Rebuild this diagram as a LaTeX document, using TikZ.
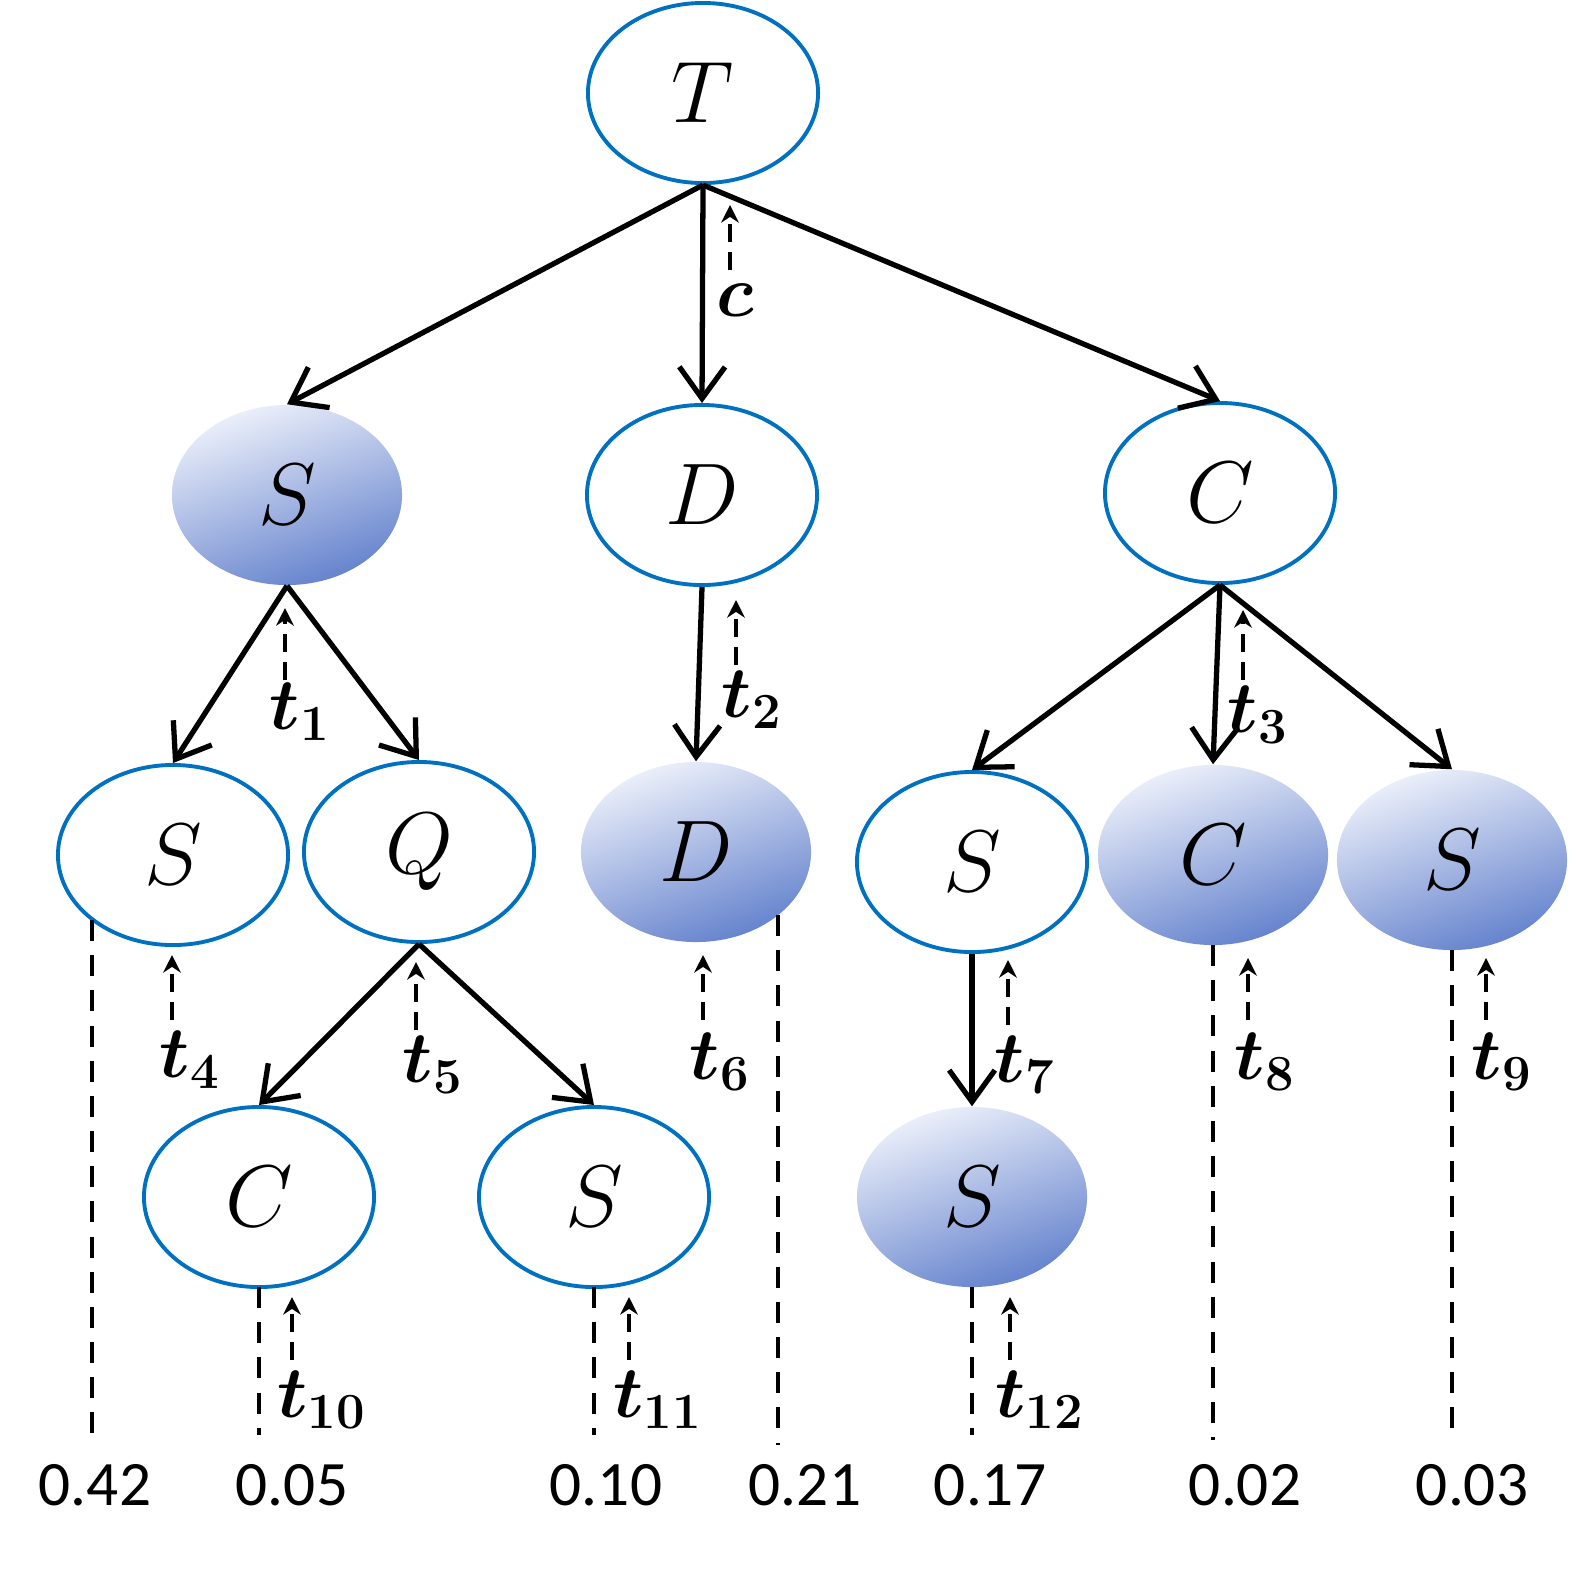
\documentclass[tikz,border=0pt]{standalone}
\usepackage{fontspec}
\usepackage{bm}
\newfontfamily\numfont{Carlito}
\usetikzlibrary{shapes.geometric,arrows.meta}
\begin{document}
\begin{tikzpicture}[x=0.01cm,y=-0.01cm,
  ell/.style={ellipse,minimum width=230\pgflinewidth,inner sep=0pt,font=\fontsize{26}{28}\selectfont},
  wnode/.style={ellipse,draw={rgb,255:red,0;green,112;blue,192},line width=1.1pt,fill=white,minimum width=2.3cm,minimum height=1.8cm,inner sep=0pt,font=\fontsize{26}{28}\selectfont},
  fnode/.style={ellipse,minimum width=2.3cm,minimum height=1.8cm,inner sep=0pt,font=\fontsize{26}{28}\selectfont,shading=axis,top color={rgb,255:red,236;green,240;blue,250},bottom color={rgb,255:red,100;green,130;blue,205},shading angle=20},
  edge/.style={line width=1.5pt,-{Straight Barb[length=9pt,width=13pt,line width=1.5pt]}},
  up/.style={dashed,line width=1.1pt,dash pattern=on 5pt off 3pt,-{Stealth[length=5pt,width=5pt]}},
  vl/.style={dashed,line width=1.1pt,dash pattern=on 6pt off 4pt},
  lab/.style={font=\fontsize{21}{23}\selectfont,inner sep=0pt},
  num/.style={font=\numfont\fontsize{18}{20}\selectfont,inner sep=0pt}]
\useasboundingbox (0,0) rectangle (1577,1569);
\node[wnode] (T) at (703,93) {$T$};
\node[fnode] (S1) at (287,495) {$S$};
\node[wnode] (D1) at (702,495) {$D$};
\node[wnode] (C1) at (1220,493) {$C$};
\node[wnode] (S2) at (173,855) {$S$};
\node[wnode] (Q) at (419,852) {$Q$};
\node[fnode] (D2) at (696,852) {$D$};
\node[wnode] (S3) at (972,862) {$S$};
\node[fnode] (C2) at (1213,855) {$C$};
\node[fnode] (S4) at (1452,860) {$S$};
\node[wnode] (C3) at (259,1197) {$C$};
\node[wnode] (S5) at (594,1197) {$S$};
\node[fnode] (S6) at (972,1197) {$S$};
\draw[edge] (T.south) -- (S1.north);
\draw[edge] (T.south) -- (D1.north);
\draw[edge] (T.south) -- (C1.north);
\draw[edge] (S1.south) -- (S2.north);
\draw[edge] (S1.south) -- (Q.north);
\draw[edge] (D1.south) -- (D2.north);
\draw[edge] (C1.south) -- (S3.north);
\draw[edge] (C1.south) -- (C2.north);
\draw[edge] (C1.south) -- (S4.north);
\draw[edge] (Q.south) -- (C3.north);
\draw[edge] (Q.south) -- (S5.north);
\draw[edge] (S3.south) -- (S6.north);
% dashed up arrows
\foreach \n/\x/\ya/\yb/\lx/\ly/\t in {c/730/270/205/735/300/c,a1/285/680/608/300/712/t_1,a2/736/665/600/752/700/t_2,a3/1243/680/610/1258/715/t_3,a4/172/1020/955/190/1060/t_4,a5/416/1030/962/433/1065/t_5,a6/703/1020/955/720/1062/t_6,a7/1008/1025/960/1025/1065/t_7,a8/1248/1020/958/1265/1062/t_8,a9/1486/1020/958/1502/1062/t_9,a10/292/1360/1297/322/1400/t_{10},a11/629/1360/1297/658/1400/t_{11},a12/1010/1360/1297/1040/1400/t_{12}}{
  \coordinate (\n s) at (\x,\ya); \coordinate (\n e) at (\x,\yb);
  \draw[up] (\n s) -- (\n e);
  \node[lab] (\n l) at (\lx,\ly) {$\bm{\t}$};
}
% vertical dashed lines and numbers
\foreach \n/\x/\ya/\yb/\lx/\v in {v1/92/920/1445/95/0.42,v2/259/1287/1435/292/0.05,v3/594/1287/1435/606/0.10,v4/778/915/1445/805/0.21,v5/972/1287/1435/990/0.17,v6/1213/945/1440/1245/0.02,v7/1452/950/1440/1472/0.03}{
  \coordinate (\n a) at (\x,\ya); \coordinate (\n b) at (\x,\yb);
  \draw[vl] (\n a) -- (\n b);
  \node[num] (\n l) at (\lx,1485) {\v};
}
\end{tikzpicture}
\end{document}
